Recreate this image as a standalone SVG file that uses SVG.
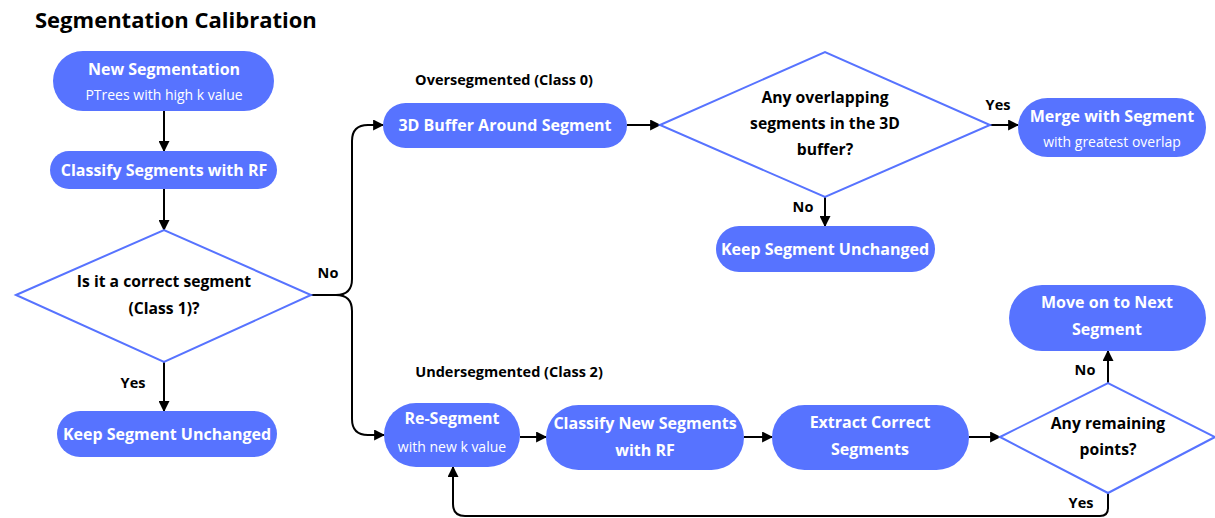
<svg xmlns="http://www.w3.org/2000/svg" width="1215" height="518" viewBox="0 0 1215 518">
<defs>
<style>
.node{fill:#5773FF;}
.dia{fill:#fff;stroke:#5773FF;stroke-width:2;}
.t{font-family:"Open Sans","Liberation Sans",sans-serif;font-weight:bold;font-size:16px;fill:#fff;text-anchor:middle;}
.s{font-family:"Open Sans","Liberation Sans",sans-serif;font-size:14px;fill:#fff;text-anchor:middle;}
.d{font-family:"Open Sans","Liberation Sans",sans-serif;font-weight:bold;font-size:15.7px;fill:#000;text-anchor:middle;}
.l{font-family:"Open Sans","Liberation Sans",sans-serif;font-weight:bold;font-size:14.5px;fill:#000;text-anchor:middle;}
.c{fill:none;stroke:#000;stroke-width:2;}
</style>
<marker id="ah" viewBox="0 0 10 10" refX="9" refY="5" markerWidth="5.5" markerHeight="5.5" orient="auto" markerUnits="strokeWidth">
<path d="M0,0 L10,5 L0,10 z" fill="#000"/>
</marker>
</defs>
<rect width="1215" height="518" fill="#fff"/>
<text x="35" y="28" font-family="'Open Sans','Liberation Sans',sans-serif" font-weight="bold" font-size="22" fill="#000">Segmentation Calibration</text>

<g id="connectors">
<path class="c" d="M164,111 V151" marker-end="url(#ah)"/>
<path class="c" d="M164,189 V230" marker-end="url(#ah)"/>
<path class="c" d="M164,362 V411" marker-end="url(#ah)"/>
<path class="c" d="M311,295 H336 Q352,295 352,279 V141 Q352,125 368,125 H383" marker-end="url(#ah)"/>
<path class="c" d="M336,295 Q352,295 352,311 V419 Q352,435 368,435 H384" marker-end="url(#ah)"/>
<path class="c" d="M627,125 H660" marker-end="url(#ah)"/>
<path class="c" d="M990,125 H1018" marker-end="url(#ah)"/>
<path class="c" d="M825,197 V226" marker-end="url(#ah)"/>
<path class="c" d="M520,437 H546" marker-end="url(#ah)"/>
<path class="c" d="M744,437 H772" marker-end="url(#ah)"/>
<path class="c" d="M969,437 H1000" marker-end="url(#ah)"/>
<path class="c" d="M1108,383 V351" marker-end="url(#ah)"/>
<path class="c" d="M1108,493 V508 Q1108,516 1100,516 H465 Q453,516 453,504 V467" marker-end="url(#ah)"/>
</g>

<g id="labels">
<text class="l" x="328" y="278">No</text>
<text class="l" x="133" y="388">Yes</text>
<text class="l" x="998" y="110">Yes</text>
<text class="l" x="803" y="212">No</text>
<text class="l" x="1085" y="375">No</text>
<text class="l" x="1081" y="508">Yes</text>
<text class="l" x="504" y="85">Oversegmented (Class 0)</text>
<text class="l" x="509" y="377">Undersegmented (Class 2)</text>
</g>

<g id="n-new">
<rect class="node" x="53" y="51" width="221" height="60" rx="30"/>
<text class="t" x="164" y="75">New Segmentation</text>
<text class="s" x="164" y="100">PTrees with high k value</text>
</g>
<g id="n-classify">
<rect class="node" x="50" y="151" width="227" height="38" rx="19"/>
<text class="t" x="164" y="176">Classify Segments with RF</text>
</g>
<g id="n-correct">
<polygon class="dia" points="16,295 164,230 311,295 164,362"/>
<text class="d" x="164" y="287">Is it a correct segment</text>
<text class="d" x="164" y="314">(Class 1)?</text>
</g>
<g id="n-keep1">
<rect class="node" x="57" y="411" width="220" height="46" rx="23"/>
<text class="t" x="167" y="440">Keep Segment Unchanged</text>
</g>
<g id="n-buffer">
<rect class="node" x="383" y="103" width="244" height="45" rx="22.5"/>
<text class="t" x="505" y="131">3D Buffer Around Segment</text>
</g>
<g id="n-overlap">
<polygon class="dia" points="660,125 825,52 990,125 825,197"/>
<text class="d" x="825" y="103">Any overlapping</text>
<text class="d" x="825" y="129">segments in the 3D</text>
<text class="d" x="825" y="155">buffer?</text>
</g>
<g id="n-merge">
<rect class="node" x="1018" y="98" width="188" height="59" rx="29.5"/>
<text class="t" x="1112" y="122">Merge with Segment</text>
<text class="s" x="1112" y="147">with greatest overlap</text>
</g>
<g id="n-keep2">
<rect class="node" x="716" y="226" width="219" height="46" rx="23"/>
<text class="t" x="825" y="255">Keep Segment Unchanged</text>
</g>
<g id="n-reseg">
<rect class="node" x="384" y="403" width="136" height="64" rx="32"/>
<text class="t" x="452" y="424">Re-Segment</text>
<text class="s" x="452" y="452">with new k value</text>
</g>
<g id="n-classnew">
<rect class="node" x="546" y="405" width="198" height="65" rx="32.5"/>
<text class="t" x="645" y="429">Classify New Segments</text>
<text class="t" x="645" y="456">with RF</text>
</g>
<g id="n-extract">
<rect class="node" x="772" y="405" width="197" height="65" rx="32.5"/>
<text class="t" x="870" y="428">Extract Correct</text>
<text class="t" x="870" y="455">Segments</text>
</g>
<g id="n-remaining">
<polygon class="dia" points="1000,437 1108,383 1215,437 1108,493"/>
<text class="d" x="1108" y="429">Any remaining</text>
<text class="d" x="1108" y="455">points?</text>
</g>
<g id="n-next">
<rect class="node" x="1009" y="285" width="197" height="66" rx="33"/>
<text class="t" x="1107" y="308">Move on to Next</text>
<text class="t" x="1107" y="335">Segment</text>
</g>
</svg>
